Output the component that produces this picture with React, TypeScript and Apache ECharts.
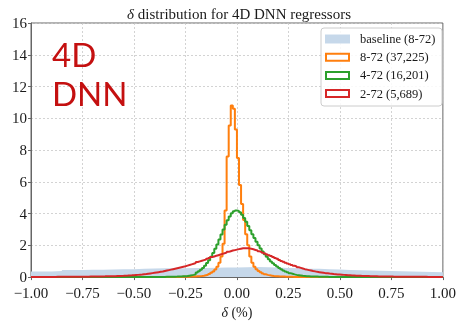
import React, { useEffect, useRef } from "react";
import * as echarts from "echarts";

// ---------- data (densities in %, bins of width 0.01 unless noted) ----------
const X_MIN = -1;
const X_MAX = 1;
const BIN = 0.01;

const RED_START = -1.0; // 2-72 (5,689)
const RED = [
  0.010, 0.010, 0.011, 0.011, 0.011, 0.012, 0.012, 0.012, 0.013, 0.013,
  0.014, 0.014, 0.015, 0.015, 0.016, 0.016, 0.017, 0.017, 0.018, 0.019,
  0.020, 0.021, 0.022, 0.023, 0.024, 0.025, 0.027, 0.028, 0.030, 0.032,
  0.035, 0.037, 0.039, 0.041, 0.044, 0.046, 0.049, 0.052, 0.055, 0.058,
  0.060, 0.065, 0.070, 0.075, 0.082, 0.090, 0.096, 0.103, 0.110, 0.118,
  0.13, 0.14, 0.15, 0.16, 0.175, 0.19, 0.21, 0.23, 0.25, 0.27,
  0.29, 0.31, 0.33, 0.35, 0.38, 0.41, 0.44, 0.47, 0.50, 0.53,
  0.56, 0.59, 0.62, 0.65, 0.68, 0.72, 0.76, 0.80, 0.84, 0.88,
  0.95, 0.99, 1.03, 1.07, 1.11, 1.16, 1.21, 1.26, 1.30, 1.34,
  1.38, 1.42, 1.46, 1.50, 1.54, 1.59, 1.63, 1.67, 1.70, 1.73,
  1.76, 1.79, 1.81, 1.82, 1.82, 1.81, 1.78, 1.75, 1.71, 1.67,
  1.62, 1.58, 1.53, 1.48, 1.43, 1.38, 1.33, 1.27, 1.21, 1.15,
  1.08, 1.02, 0.96, 0.91, 0.86, 0.81, 0.76, 0.71, 0.67, 0.62,
  0.58, 0.54, 0.50, 0.47, 0.44, 0.41, 0.38, 0.36, 0.33, 0.31,
  0.29, 0.27, 0.25, 0.24, 0.22, 0.21, 0.19, 0.18, 0.17, 0.16,
  0.15, 0.14, 0.13, 0.12, 0.11, 0.10, 0.095, 0.09, 0.085, 0.08,
  0.075, 0.070, 0.066, 0.062, 0.058, 0.054, 0.051, 0.048, 0.045, 0.043,
  0.040, 0.038, 0.036, 0.034, 0.032, 0.030, 0.029, 0.027, 0.026, 0.025,
  0.024, 0.023, 0.022, 0.021, 0.020, 0.019, 0.018, 0.017, 0.017, 0.016,
  0.015, 0.015, 0.014, 0.014, 0.013, 0.013, 0.012, 0.012, 0.011, 0.011,
];

const GREEN_START = -0.5; // 4-72 (16,201)
const GREEN = [
  0.005, 0.005, 0.005, 0.005, 0.006, 0.006, 0.007, 0.008, 0.009, 0.010,
  0.010, 0.011, 0.012, 0.013, 0.014, 0.016, 0.018, 0.020, 0.023, 0.026,
  0.03, 0.035, 0.04, 0.05, 0.06, 0.07, 0.09, 0.11, 0.14, 0.18,
  0.29, 0.37, 0.47, 0.58, 0.72, 0.88, 1.06, 1.28, 1.52, 1.78,
  2.06, 2.36, 2.68, 3.00, 3.30, 3.58, 3.82, 4.02, 4.15, 4.20,
  4.17, 4.08, 3.92, 3.72, 3.48, 3.22, 2.95, 2.70, 2.46, 2.22,
  2.00, 1.80, 1.61, 1.44, 1.28, 1.13, 0.99, 0.87, 0.76, 0.66,
  0.57, 0.49, 0.42, 0.36, 0.30, 0.25, 0.21, 0.17, 0.14, 0.12,
  0.10, 0.08, 0.07, 0.06, 0.05, 0.04, 0.035, 0.03, 0.03, 0.025,
  0.02, 0.02, 0.018, 0.016, 0.014, 0.012, 0.01, 0.01, 0.008, 0.007,
];

const ORANGE_START = -0.3; // 8-72 (37,225)
const ORANGE = [
  0.01, 0.012, 0.014, 0.016, 0.018, 0.02, 0.025, 0.03, 0.035, 0.04,
  0.05, 0.06, 0.07, 0.09, 0.12, 0.15, 0.20, 0.27, 0.36, 0.48,
  0.65, 0.90, 1.30, 2.10, 4.20, 7.60, 9.55, 10.8, 10.6, 9.3,
  7.5, 5.8, 4.6, 3.6, 2.7, 2.0, 1.3, 0.9, 0.65, 0.5,
  0.38, 0.30, 0.23, 0.18, 0.14, 0.11, 0.09, 0.07, 0.06, 0.05,
  0.04, 0.035, 0.03, 0.025, 0.02, 0.018, 0.015, 0.012, 0.01, 0.01,
];

const BASE_START = -1.0; // baseline (8-72), bins of 0.05
const BASE_BIN = 0.05;
const BASELINE = [
  0.35, 0.36, 0.38, 0.44, 0.45, 0.46, 0.47, 0.48, 0.49, 0.50,
  0.53, 0.54, 0.55, 0.55, 0.56, 0.57, 0.58, 0.59, 0.60, 0.61,
  0.62, 0.63, 0.62, 0.60, 0.57, 0.55, 0.53, 0.52, 0.50, 0.48,
  0.45, 0.43, 0.41, 0.40, 0.38, 0.37, 0.36, 0.33, 0.32, 0.31,
];

const LEGEND_NAMES = ["baseline (8-72)", "8-72 (37,225)", "4-72 (16,201)", "2-72 (5,689)"];
const COLORS = ["#c6d8ea", "#ff7f0e", "#2ca02c", "#d62728"];
const Y_MIN = 0;
const Y_MAX = 16;
const Y_STEP = 2;
const X_STEP = 0.25;

const SERIF = "'Liberation Serif', 'Times New Roman', serif";

function stepData(start: number, bin: number, vals: number[]) {
  const pts: number[][] = [];
  if (start > X_MIN) pts.push([X_MIN, 0]);
  vals.forEach((v, i) => pts.push([start + i * bin, v]));
  const end = start + vals.length * bin;
  pts.push([end, vals[vals.length - 1]]);
  pts.push([end, 0]);
  if (end < X_MAX) pts.push([X_MAX, 0]);
  return pts;
}

export default function App() {
  const ref = useRef<HTMLDivElement>(null);
  useEffect(() => {
    if (!ref.current) return;
    const chart = echarts.init(ref.current, undefined, { renderer: "svg" });
    const fmtX = (v: number) => (v < 0 ? "\u2212" : "") + Math.abs(v).toFixed(2);

    const legendItems: any[] = [];
    const lx = 321, ly = 28;
    legendItems.push({
      type: "rect",
      shape: { x: lx, y: ly, width: 121, height: 78, r: 3 },
      style: { fill: "rgba(255,255,255,0.85)", stroke: "#cccccc", lineWidth: 1 },
      z: 100,
    });
    LEGEND_NAMES.forEach((name, i) => {
      const cy = 39 + i * 18.2;
      legendItems.push({
        type: "rect",
        shape: i === 0 ? { x: 325, y: cy - 4.5, width: 25, height: 9 } : { x: 326, y: cy - 3.5, width: 23, height: 7 },
        style: i === 0 ? { fill: COLORS[0] } : { fill: "#ffffff", stroke: COLORS[i], lineWidth: 2 },
        z: 101,
      });
      legendItems.push({
        type: "text",
        x: 360,
        y: cy,
        style: { text: name, fill: "#1a1a1a", font: `12.5px ${SERIF}`, verticalAlign: "middle", align: "left" },
        z: 101,
      });
    });

    chart.setOption({
      animation: false,
      grid: { left: 31, right: 12, top: 23, bottom: 40, show: true, borderColor: "#666", borderWidth: 1, backgroundColor: "transparent" },
      xAxis: {
        type: "value",
        min: X_MIN,
        max: X_MAX,
        interval: X_STEP,
        name: "{i|\u03b4} (%)",
        nameLocation: "middle",
        nameGap: 22,
        nameTextStyle: { fontFamily: SERIF, fontSize: 14, color: "#1a1a1a", rich: { i: { fontFamily: SERIF, fontSize: 14, fontStyle: "italic", color: "#1a1a1a" } } },
        axisLine: { show: true, onZero: false, lineStyle: { color: "#666", width: 1 } },
        axisTick: { show: true, length: 3, lineStyle: { color: "#666" } },
        axisLabel: { formatter: fmtX, fontFamily: SERIF, fontSize: 15, color: "#1a1a1a", margin: 8 },
        splitLine: { show: true, lineStyle: { color: "#c8c8c8", type: [2, 2], width: 0.8 } },
      },
      yAxis: {
        type: "value",
        min: Y_MIN,
        max: Y_MAX,
        interval: Y_STEP,
        axisLine: { show: true, onZero: false, lineStyle: { color: "#666", width: 1 } },
        axisTick: { show: true, length: 3, lineStyle: { color: "#666" } },
        axisLabel: { fontFamily: SERIF, fontSize: 15, color: "#1a1a1a", margin: 4 },
        splitLine: { show: true, lineStyle: { color: "#c8c8c8", type: [2, 2], width: 0.8 } },
      },
      series: [
        {
          name: LEGEND_NAMES[0],
          type: "line",
          step: "end",
          data: stepData(BASE_START, BASE_BIN, BASELINE),
          symbol: "none",
          lineStyle: { width: 0, color: COLORS[0] },
          areaStyle: { color: COLORS[0], opacity: 1 },
          silent: true,
          z: 1,
        },
        {
          name: LEGEND_NAMES[1],
          type: "line",
          step: "end",
          data: stepData(ORANGE_START, BIN, ORANGE),
          symbol: "none",
          lineStyle: { width: 2, color: COLORS[1] },
          silent: true,
          z: 2,
        },
        {
          name: LEGEND_NAMES[2],
          type: "line",
          step: "end",
          data: stepData(GREEN_START, BIN, GREEN),
          symbol: "none",
          lineStyle: { width: 2, color: COLORS[2] },
          silent: true,
          z: 3,
        },
        {
          name: LEGEND_NAMES[3],
          type: "line",
          step: "end",
          data: stepData(RED_START, BIN, RED),
          symbol: "none",
          lineStyle: { width: 2, color: COLORS[3] },
          silent: true,
          z: 4,
        },
      ],
      graphic: [
        {
          type: "text",
          x: 239,
          y: 14,
          style: {
            text: "{i|\u03b4} distribution for 4D DNN regressors",
            font: `15px ${SERIF}`,
            fill: "#1a1a1a",
            align: "center",
            verticalAlign: "middle",
            rich: { i: { fontStyle: "italic", fontFamily: SERIF, fontSize: 15, fill: "#1a1a1a" } },
          },
        },
        {
          type: "text",
          x: 52,
          y: 54,
          style: { text: "4D", font: `33px Lato, 'Open Sans', sans-serif`, fill: "#c41010", align: "left", verticalAlign: "middle" },
          z: 50,
        },
        {
          type: "text",
          x: 52,
          y: 93,
          style: { text: "DNN", font: `33px Lato, 'Open Sans', sans-serif`, fill: "#c41010", align: "left", verticalAlign: "middle" },
          z: 50,
        },
        ...legendItems,
      ],
    });
    return () => chart.dispose();
  }, []);
  return <div ref={ref} style={{ position: "fixed", left: 0, top: 0, width: 459, height: 324 }} />;
}
